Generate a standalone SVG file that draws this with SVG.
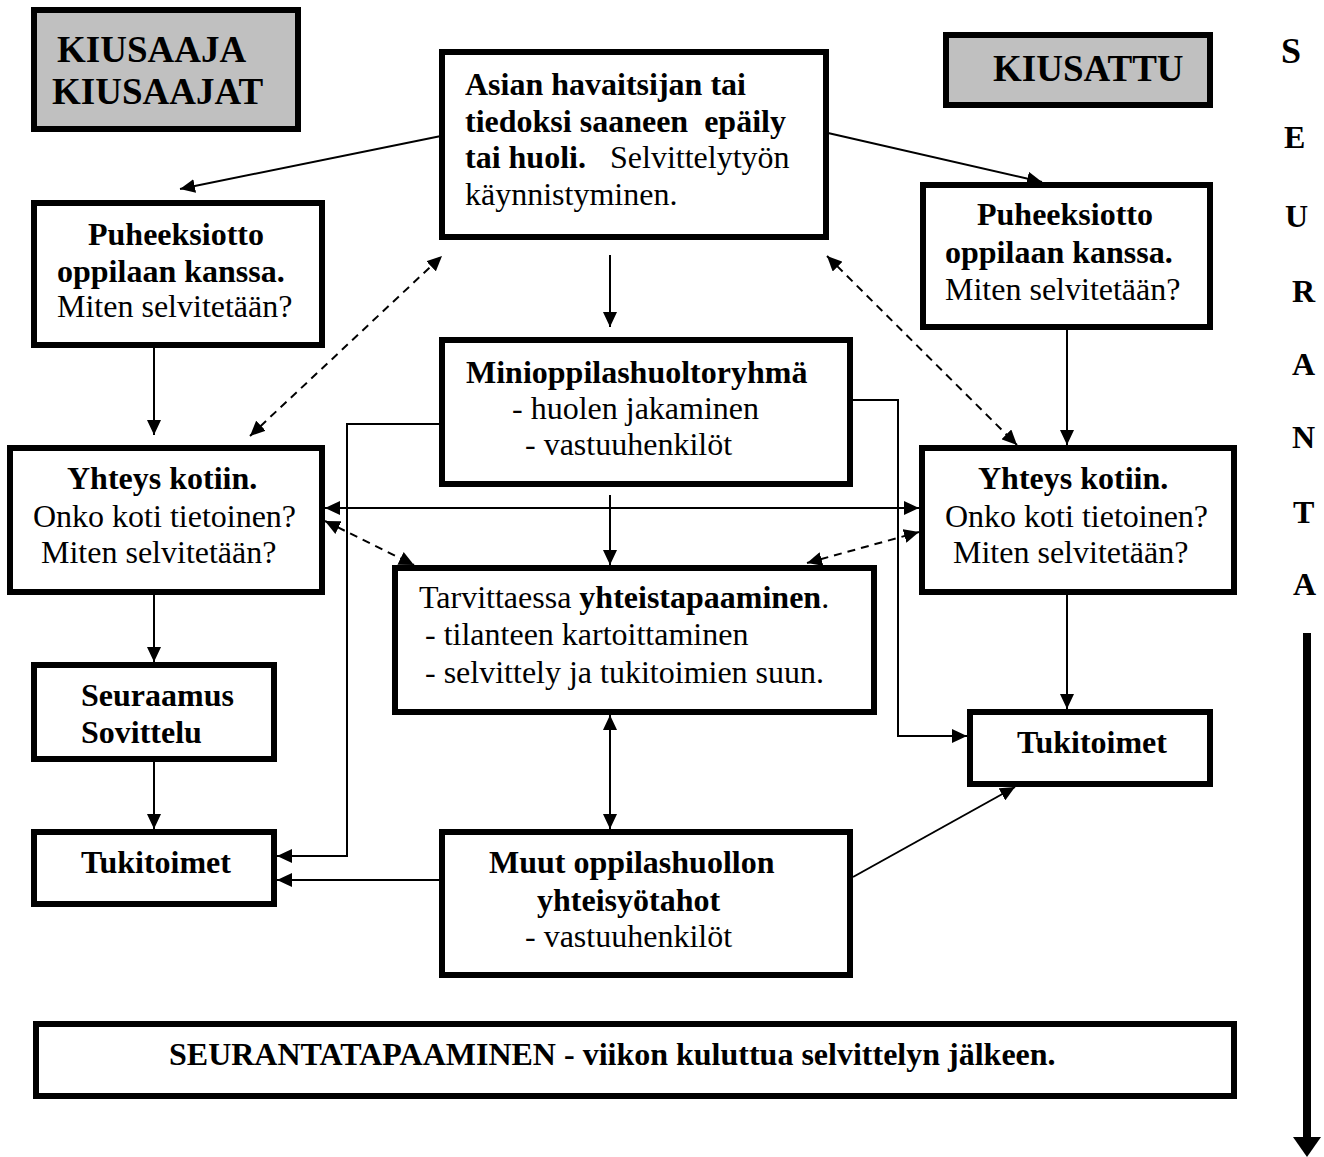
<svg xmlns="http://www.w3.org/2000/svg" width="1324" height="1157" viewBox="0 0 1324 1157">
<style>
.box{fill:#fff;stroke:#000;stroke-width:6}
.gray{fill:#c0c0c0;stroke:#000;stroke-width:6}
text{font-family:"Liberation Serif","Times New Roman",serif;font-size:32px;fill:#000}
.b{font-weight:bold}
.h{font-weight:bold;font-size:37px}
.ln{fill:none;stroke:#000;stroke-width:2}
.d{stroke-dasharray:8 6}
</style>
<defs>
<marker id="ah" markerUnits="userSpaceOnUse" markerWidth="16" markerHeight="14" refX="15" refY="7" orient="auto-start-reverse">
<path d="M0,0 L15,7 L0,14 z" fill="#000"/>
</marker>
</defs>
<rect width="1324" height="1157" fill="#fff"/>

<g id="kiusaaja">
<rect class="gray" x="34" y="10" width="264" height="119"/>
<text class="h" x="57" y="62">KIUSAAJA</text>
<text class="h" x="52" y="104">KIUSAAJAT</text>
</g>
<g id="kiusattu">
<rect class="gray" x="946" y="35" width="264" height="70"/>
<text class="h" x="993" y="81">KIUSATTU</text>
</g>
<g id="havainto">
<rect class="box" x="442" y="52" width="384" height="185"/>
<text class="b" x="465" y="95">Asian havaitsijan tai</text>
<text class="b" x="465" y="132" style="white-space:pre">tiedoksi saaneen  epäily</text>
<text x="465" y="168"><tspan class="b">tai huoli.</tspan><tspan x="610">Selvittelytyön</tspan></text>
<text x="465" y="205">käynnistyminen.</text>
</g>
<g id="puheeksi-vasen">
<rect class="box" x="34" y="203" width="288" height="142"/>
<text class="b" x="88" y="245">Puheeksiotto</text>
<text class="b" x="57" y="282">oppilaan kanssa.</text>
<text x="57" y="317">Miten selvitetään?</text>
</g>
<g id="puheeksi-oikea">
<rect class="box" x="923" y="185" width="287" height="142"/>
<text class="b" x="977" y="225">Puheeksiotto</text>
<text class="b" x="945" y="263">oppilaan kanssa.</text>
<text x="945" y="300">Miten selvitetään?</text>
</g>
<g id="mini">
<rect class="box" x="442" y="340" width="408" height="144"/>
<text class="b" x="466" y="383">Minioppilashuoltoryhmä</text>
<text x="512" y="419">- huolen jakaminen</text>
<text x="525" y="455">- vastuuhenkilöt</text>
</g>
<g id="yhteys-vasen">
<rect class="box" x="10" y="448" width="312" height="144"/>
<text class="b" x="67" y="489">Yhteys kotiin.</text>
<text x="33" y="527">Onko koti tietoinen?</text>
<text x="41" y="563">Miten selvitetään?</text>
</g>
<g id="yhteys-oikea">
<rect class="box" x="922" y="448" width="312" height="144"/>
<text class="b" x="978" y="489">Yhteys kotiin.</text>
<text x="945" y="527">Onko koti tietoinen?</text>
<text x="953" y="563">Miten selvitetään?</text>
</g>
<g id="yhteistapaaminen">
<rect class="box" x="395" y="568" width="479" height="144"/>
<text x="419" y="608">Tarvittaessa <tspan class="b">yhteistapaaminen</tspan>.</text>
<text x="425" y="645">- tilanteen kartoittaminen</text>
<text x="425" y="683">- selvittely ja tukitoimien suun.</text>
</g>
<g id="seuraamus">
<rect class="box" x="34" y="665" width="240" height="94"/>
<text class="b" x="81" y="706">Seuraamus</text>
<text class="b" x="81" y="743">Sovittelu</text>
</g>
<g id="tukitoimet-oikea">
<rect class="box" x="970" y="712" width="240" height="72"/>
<text class="b" x="1017" y="753">Tukitoimet</text>
</g>
<g id="tukitoimet-vasen">
<rect class="box" x="34" y="832" width="240" height="72"/>
<text class="b" x="81" y="873">Tukitoimet</text>
</g>
<g id="muut">
<rect class="box" x="442" y="832" width="408" height="143"/>
<text class="b" x="489" y="873">Muut oppilashuollon</text>
<text class="b" x="537" y="911">yhteisyötahot</text>
<text x="525" y="947">- vastuuhenkilöt</text>
</g>
<g id="seurantatapaaminen">
<rect class="box" x="36" y="1024" width="1198" height="72"/>
<text class="b" x="169" y="1065">SEURANTATAPAAMINEN - viikon kuluttua selvittelyn jälkeen.</text>
</g>
<g id="seuranta">
<text class="b" x="1281" y="63" style="font-size:36px">S</text>
<text class="b" x="1284" y="148">E</text>
<text class="b" x="1285" y="227">U</text>
<text class="b" x="1292" y="302">R</text>
<text class="b" x="1292" y="375">A</text>
<text class="b" x="1292" y="448">N</text>
<text class="b" x="1293" y="523">T</text>
<text class="b" x="1293" y="595">A</text>
<line x1="1307" y1="633" x2="1307" y2="1140" stroke="#000" stroke-width="8"/>
<polygon points="1293,1137 1321,1137 1307,1157" fill="#000"/>
</g>

<g id="connectors">
<line class="ln" x1="441" y1="136" x2="180" y2="189" marker-end="url(#ah)"/>
<line class="ln" x1="828" y1="133" x2="1042" y2="182" marker-end="url(#ah)"/>
<line class="ln" x1="610" y1="255" x2="610" y2="327" marker-end="url(#ah)"/>
<line class="ln" x1="154" y1="345" x2="154" y2="435" marker-end="url(#ah)"/>
<line class="ln d" x1="250" y1="436" x2="442" y2="256" marker-start="url(#ah)" marker-end="url(#ah)"/>
<line class="ln d" x1="827" y1="256" x2="1017" y2="445" marker-start="url(#ah)" marker-end="url(#ah)"/>
<line class="ln" x1="1067" y1="327" x2="1067" y2="445" marker-end="url(#ah)"/>
<line class="ln" x1="154" y1="595" x2="154" y2="662" marker-end="url(#ah)"/>
<line class="ln" x1="154" y1="762" x2="154" y2="829" marker-end="url(#ah)"/>
<line class="ln" x1="1067" y1="595" x2="1067" y2="709" marker-end="url(#ah)"/>
<line class="ln" x1="325" y1="508" x2="919" y2="508" marker-start="url(#ah)" marker-end="url(#ah)"/>
<line class="ln d" x1="325" y1="521" x2="414" y2="565" marker-start="url(#ah)" marker-end="url(#ah)"/>
<line class="ln d" x1="807" y1="563" x2="919" y2="532" marker-start="url(#ah)" marker-end="url(#ah)"/>
<line class="ln" x1="610" y1="495" x2="610" y2="565" marker-end="url(#ah)"/>
<polyline class="ln" points="853,400 898,400 898,736 967,736" marker-end="url(#ah)"/>
<polyline class="ln" points="439,424 347,424 347,856 277,856" marker-end="url(#ah)"/>
<line class="ln" x1="610" y1="715" x2="610" y2="829" marker-start="url(#ah)" marker-end="url(#ah)"/>
<line class="ln" x1="439" y1="880" x2="277" y2="880" marker-end="url(#ah)"/>
<line class="ln" x1="853" y1="877" x2="1015" y2="787" marker-end="url(#ah)"/>
</g>
</svg>
